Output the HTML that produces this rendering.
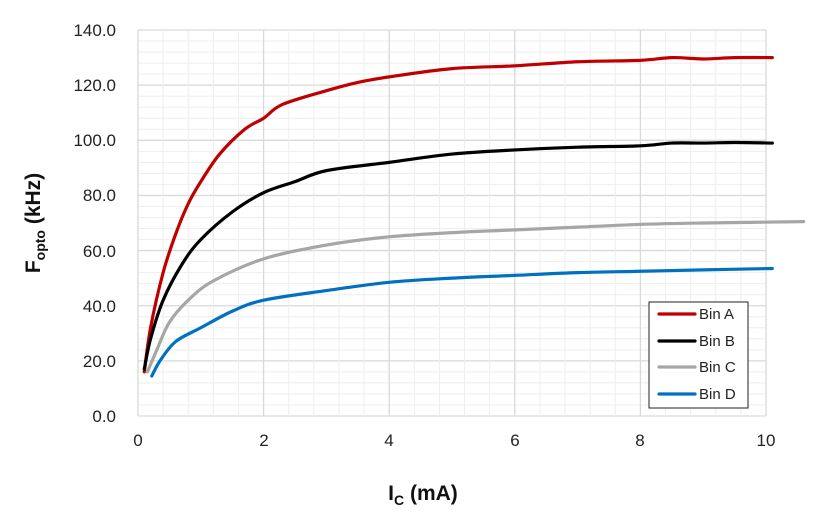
<!DOCTYPE html>
<html><head><meta charset="utf-8"><style>
body{margin:0;background:#fff;width:822px;height:516px;overflow:hidden}
svg{font-family:"Liberation Sans",sans-serif}
</style></head><body>
<svg id="s" width="822" height="516" xmlns="http://www.w3.org/2000/svg">
<g id="grid"></g>
<g font-size="17" fill="#222" text-anchor="end">
<text x="116" y="422">0.0</text><text x="116" y="367">20.0</text><text x="116" y="312">40.0</text>
<text x="116" y="257">60.0</text><text x="116" y="201">80.0</text><text x="116" y="146">100.0</text>
<text x="116" y="91">120.0</text><text x="116" y="36">140.0</text>
</g>
<g font-size="17" fill="#222" text-anchor="middle">
<text x="138" y="446">0</text><text x="264" y="446">2</text><text x="389" y="446">4</text>
<text x="515" y="446">6</text><text x="640" y="446">8</text><text x="766" y="446">10</text>
</g>
<text x="423" y="500" font-size="21" font-weight="bold" text-anchor="middle" fill="#111">I<tspan font-size="14" dy="5">C</tspan><tspan dy="-5"> (mA)</tspan></text>
<text transform="translate(40,223) rotate(-90)" font-size="21" font-weight="bold" text-anchor="middle" fill="#111">F<tspan font-size="14" dy="5">opto</tspan><tspan dy="-5"> (kHz)</tspan></text>
<g id="curves" fill="none" stroke-width="3.2" stroke-linejoin="round" stroke-linecap="round"></g>
<rect x="649" y="302" width="99" height="106" fill="#fff" stroke="#222" stroke-width="1"/>
<g stroke-width="3.2" stroke-linecap="round">
<line x1="659" y1="314" x2="695" y2="314" stroke="#c00000"/>
<line x1="659" y1="341" x2="695" y2="341" stroke="#000"/>
<line x1="659" y1="367" x2="695" y2="367" stroke="#a6a6a6"/>
<line x1="659" y1="394" x2="695" y2="394" stroke="#0070c0"/>
</g>
<g font-size="15" fill="#222">
<text x="699" y="319">Bin A</text><text x="699" y="346">Bin B</text>
<text x="699" y="372">Bin C</text><text x="699" y="399">Bin D</text>
</g>
</svg>
<script>
const X=v=>138+62.8*v, Y=v=>416-2.757*v, ns="http://www.w3.org/2000/svg";
let g=document.getElementById('grid'),h='';
for(let i=0;i<=35;i++){let y=Y(i*4);h+=`<line x1="138" x2="766" y1="${y}" y2="${y}" stroke="${i%5==0?'#d9d9d9':'#eeeeee'}" stroke-width="${i%5==0?1.3:1}"/>`;}
for(let i=0;i<=25;i++){let x=X(i*0.4);h+=`<line y1="30" y2="416" x1="${x}" x2="${x}" stroke="${i%5==0?'#d9d9d9':'#eeeeee'}" stroke-width="${i%5==0?1.3:1}"/>`;}
g.innerHTML=h;
const data=[
["#c00000",[[0.1,16],[0.2,32],[0.4,52],[0.6,66],[0.8,77],[1,85],[1.3,95],[1.7,104],[2,108],[2.3,113],[3,118],[3.5,121],[4,123],[5,126],[6,127],[7,128.5],[8,129],[8.5,130],[9,129.5],[9.5,130],[10.1,130]]],
["#000",[[0.1,17],[0.2,28],[0.4,42],[0.7,55],[1,64],[1.5,74],[2,81],[2.5,85],[3,89],[4,92],[5,95],[6,96.5],[7,97.5],[8,98],[8.5,99],[9,99],[9.5,99.2],[10.1,99]]],
["#a6a6a6",[[0.15,16],[0.3,24],[0.5,34],[0.8,42],[1.2,49],[2,57],[3,62],[4,65],[5,66.5],[6,67.5],[7,68.5],[8,69.5],[9,70],[10.6,70.5]]],
["#0070c0",[[0.22,14.5],[0.35,20],[0.6,27],[1,32],[1.5,38],[2,42],[3,45.5],[4,48.5],[5,50],[6,51],[7,52],[8,52.5],[9,53],[10.1,53.5]]]];
let c='';
for(const [col,pts] of data){
 const p=pts.map(a=>[X(a[0]),Y(a[1])]);
 let d=`M${p[0][0]},${p[0][1]}`;
 for(let i=0;i<p.length-1;i++){
  const p0=p[i-1]||p[i],p1=p[i],p2=p[i+1],p3=p[i+2]||p2;
  d+=`C${p1[0]+(p2[0]-p0[0])/6},${p1[1]+(p2[1]-p0[1])/6} ${p2[0]-(p3[0]-p1[0])/6},${p2[1]-(p3[1]-p1[1])/6} ${p2[0]},${p2[1]}`;
 }
 c+=`<path d="${d}" stroke="${col}"/>`;
}
document.getElementById('curves').innerHTML=c;
</script>
</body></html>
